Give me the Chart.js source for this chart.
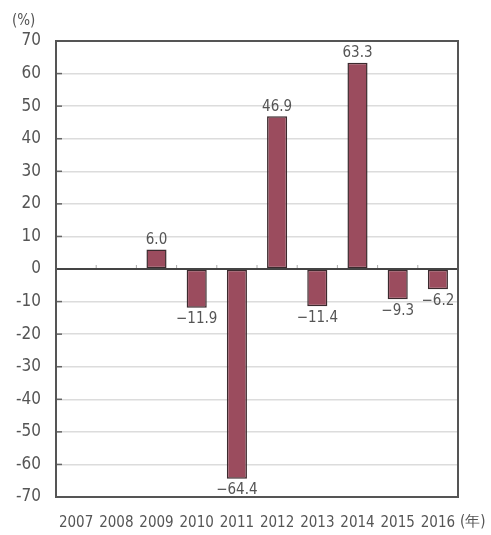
<!DOCTYPE html>
<html><head><meta charset="utf-8">
<script src="https://cdn.jsdelivr.net/npm/chart.js@4"></script>
<style>html,body{margin:0;padding:0;background:#fff}#wrap{width:491px;height:535px}</style>
</head><body><div id="wrap"><canvas id="c" width="491" height="535"></canvas></div>
<script>
const years = ['2007','2008','2009','2010','2011','2012','2013','2014','2015','2016'];
const growth = [null, null, 6.0, -11.9, -64.4, 46.9, -11.4, 63.3, -9.3, -6.2];
const yTicks = [70,60,50,40,30,20,10,0,-10,-20,-30,-40,-50,-60,-70];
const yUnit = '(%)';
const xUnit = '(年)';

const FONT = "'Liberation Sans Narrow','DejaVu Sans Condensed','Arial Narrow',sans-serif";
const TXT = '#555';

const deco = {
  id: 'deco',
  beforeDatasetsDraw(chart) {
    const {ctx, chartArea: a, scales: {x, y}} = chart;
    ctx.save();
    // short ticks on the left axis inside the plot
    ctx.strokeStyle = '#666'; ctx.lineWidth = 1.5;
    yTicks.forEach(v => {
      const py = y.getPixelForValue(v);
      ctx.beginPath(); ctx.moveTo(a.left, py); ctx.lineTo(a.left + 6, py); ctx.stroke();
    });
    // small category-boundary ticks on the zero line
    const z = y.getPixelForValue(0);
    ctx.strokeStyle = '#aaa'; ctx.lineWidth = 1;
    for (let i = 1; i < years.length; i++) {
      const px = (x.getPixelForValue(i - 1) + x.getPixelForValue(i)) / 2;
      ctx.beginPath(); ctx.moveTo(px, z - 4); ctx.lineTo(px, z); ctx.stroke();
    }
    ctx.restore();
  },
  afterDatasetsDraw(chart) {
    const {ctx, chartArea: a, scales: {y}} = chart;
    ctx.save();
    // zero line
    const z = y.getPixelForValue(0);
    ctx.strokeStyle = '#444'; ctx.lineWidth = 2;
    ctx.beginPath(); ctx.moveTo(a.left, z); ctx.lineTo(a.right, z); ctx.stroke();
    // frame
    ctx.strokeStyle = '#555'; ctx.lineWidth = 2;
    ctx.strokeRect(a.left, a.top, a.right - a.left, a.bottom - a.top);
    // data labels
    const meta = chart.getDatasetMeta(0);
    ctx.fillStyle = TXT; ctx.font = '15px ' + FONT; ctx.textAlign = 'center';
    meta.data.forEach((bar, i) => {
      const v = growth[i];
      if (v === null) return;
      const s = (v < 0 ? '\u2212' : '') + Math.abs(v).toFixed(1);
      if (v >= 0) { ctx.textBaseline = 'bottom'; ctx.fillText(s, bar.x, bar.y - 2); }
      else { ctx.textBaseline = 'top'; ctx.fillText(s, bar.x, bar.y + 4); }
    });
    // unit labels
    ctx.font = '15px ' + FONT; ctx.textBaseline = 'middle';
    ctx.textAlign = 'left';
    ctx.fillText(yUnit, 12, 21);
    ctx.fillText(xUnit, 460, 522);
    ctx.restore();
  }
};

new Chart(document.getElementById('c'), {
  type: 'bar',
  data: {
    labels: years,
    datasets: [{
      data: growth,
      backgroundColor: '#9b4c5e',
      borderColor: '#3b2a2e',
      borderWidth: 1.5,
      borderSkipped: false,
      barPercentage: 0.5,
      categoryPercentage: 1.0
    }]
  },
  options: {
    responsive: false,
    animation: false,
    events: [],
    layout: {padding: {left: 0, top: 41, right: 33, bottom: 0}},
    plugins: {legend: {display: false}, tooltip: {enabled: false}},
    scales: {
      x: {
        grid: {display: false, drawTicks: false},
        border: {display: false},
        ticks: {color: TXT, font: {family: FONT, size: 15}, padding: 17, maxRotation: 0, autoSkip: false},
        afterFit(s) { s.height = 38; }
      },
      y: {
        min: -70, max: 70,
        afterBuildTicks(s) { s.ticks = yTicks.map(v => ({value: v})); },
        grid: {color: '#dcdcdc', lineWidth: 1.5, drawTicks: false},
        border: {display: false},
        ticks: {color: TXT, font: {family: FONT, size: 17}, padding: 15,
          callback: v => (v < 0 ? '-' : '') + Math.abs(v)},
        afterFit(s) { s.width = 56; }
      }
    }
  },
  plugins: [deco]
});
</script>
</body></html>
